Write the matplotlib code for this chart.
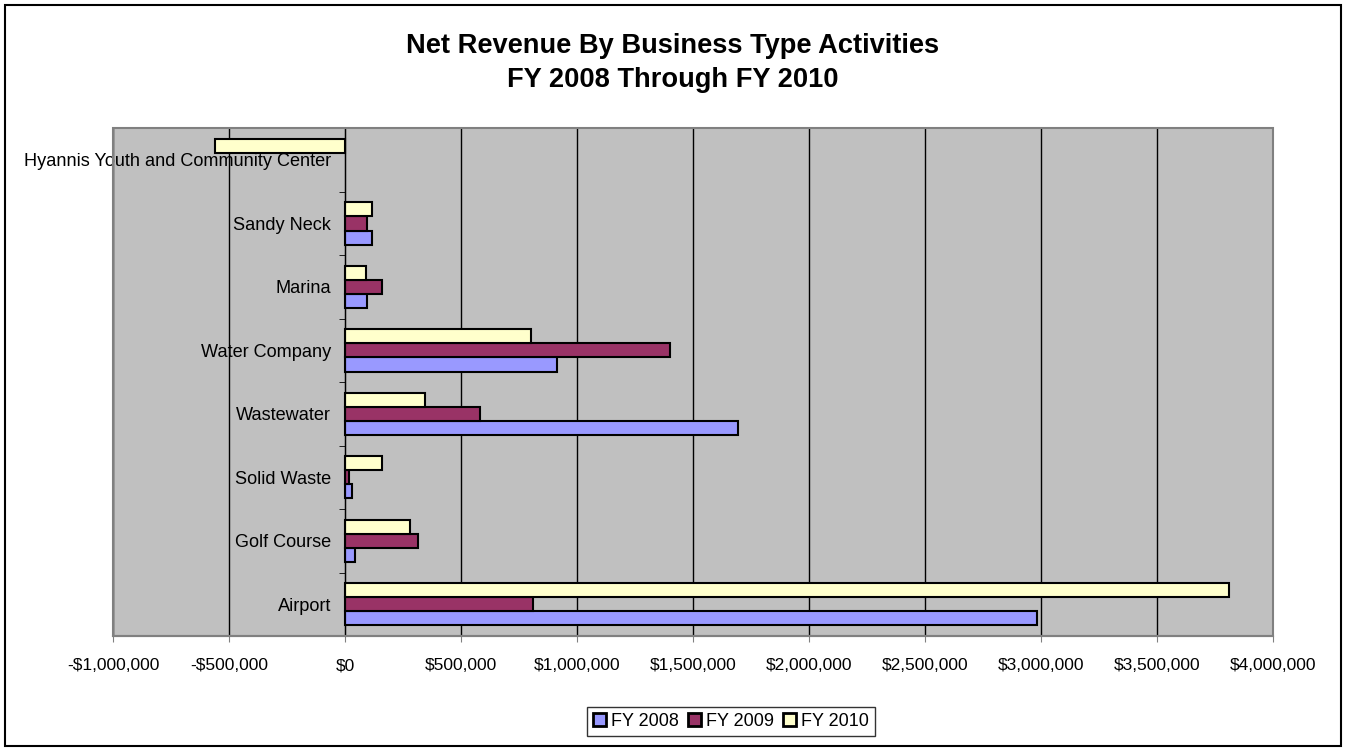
import numpy as np
import matplotlib
matplotlib.use("Agg")
import matplotlib.pyplot as plt
from matplotlib.patches import Rectangle
from matplotlib.ticker import FuncFormatter, MultipleLocator, FixedLocator

plt.rcParams['font.family'] = ['Liberation Sans', 'DejaVu Sans']

categories = ["Airport", "Golf Course", "Solid Waste", "Wastewater",
              "Water Company", "Marina", "Sandy Neck",
              "Hyannis Youth and Community Center"]
fy2008 = [2980000, 43000, 28000, 1692000, 914000, 95000, 117000, np.nan]
fy2009 = [809000, 315000, 17000, 583000, 1401000, 158000, 95000, np.nan]
fy2010 = [3810000, 279000, 161000, 343000, 801000, 90000, 115000, -561000]
series_names = ["FY 2008", "FY 2009", "FY 2010"]
series_colors = ["#9999FF", "#993366", "#FFFFCC"]


def money(v, _pos=None):
    if v < 0:
        return "-${:,.0f}".format(-v)
    return "${:,.0f}".format(v)


fig = plt.figure(figsize=(13.46, 7.5), dpi=100)
ax = fig.add_axes([0.084, 0.152, 0.862, 0.677])
ax.set_facecolor("#C0C0C0")

y = np.arange(len(categories))
h = 1 / 4.5
for k, (vals, name, col) in enumerate(zip([fy2008, fy2009, fy2010], series_names, series_colors)):
    ax.barh(y + (k - 1) * h, vals, height=h, color=col, edgecolor="black",
            linewidth=1.5, label=name, zorder=3)

ax.set_xlim(-1000000, 4000000)
ax.set_ylim(-0.5, len(categories) - 0.5)

# vertical gridlines
ax.xaxis.set_major_locator(MultipleLocator(500000))
ax.xaxis.set_major_formatter(FuncFormatter(money))
ax.grid(axis="x", color="black", linewidth=1.0, zorder=1)
ax.set_axisbelow(True)

# category axis crosses at zero
ax.spines["left"].set_position(("data", 0))
ax.spines["left"].set_color("black")
ax.spines["left"].set_zorder(4)
for s in ["top", "right"]:
    ax.spines[s].set_visible(False)
ax.spines["bottom"].set_color("#808080")
ax.spines["bottom"].set_linewidth(1.5)
ax.add_patch(Rectangle((0, 0), 1, 1, transform=ax.transAxes, fill=False,
                       edgecolor="#808080", linewidth=1.5, zorder=5, clip_on=False))

ax.set_yticks(y)
ax.set_yticklabels(categories)
ax.yaxis.set_minor_locator(FixedLocator(np.arange(0.5, len(categories) - 1, 1)))
ax.tick_params(axis="y", which="major", length=0, pad=10, labelsize=13.1)
ax.tick_params(axis="y", which="minor", length=4, direction="out", color="black")
ax.tick_params(axis="x", which="major", length=4, direction="out", pad=12,
               labelsize=12.5, color="#808080")
for t in ax.get_yticklabels():
    t.set_zorder(6)

fig.text(0.5, 0.916, "Net Revenue By Business Type Activities\nFY 2008 Through FY 2010",
         ha="center", va="center", fontsize=19.6, fontweight="bold", linespacing=1.42)

leg = fig.legend(loc="center", bbox_to_anchor=(0.543, 0.038), ncol=3, fontsize=13,
                 frameon=True, fancybox=False, edgecolor="black", handlelength=0.75,
                 handleheight=0.75, handletextpad=0.25, columnspacing=0.5,
                 borderpad=0.35, borderaxespad=0)
leg.get_frame().set_linewidth(1.0)
for p in leg.get_patches():
    p.set_linewidth(2.0)

# chart border
fig.patches.append(Rectangle((0.004, 0.006), 0.992, 0.988, transform=fig.transFigure,
                             fill=False, edgecolor="black", linewidth=1.5))

fig.savefig("out.png", dpi=100)
